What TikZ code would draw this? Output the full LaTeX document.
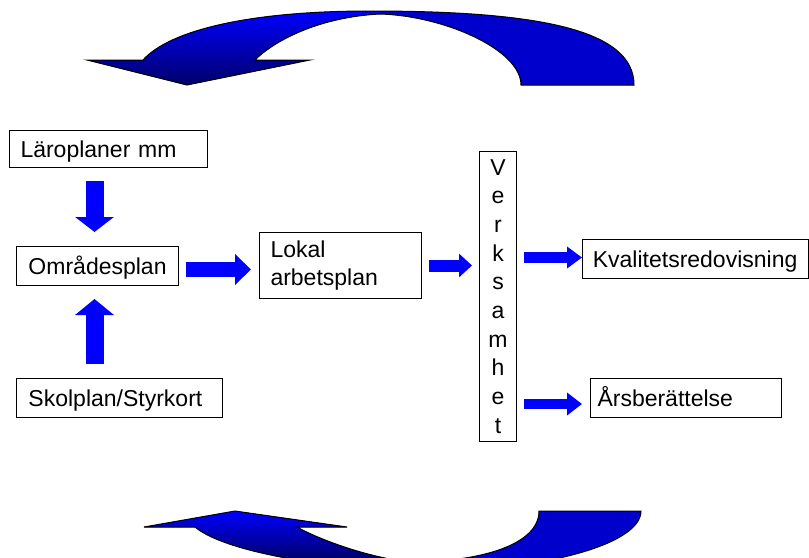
\documentclass[tikz,border=0pt]{standalone}
\usepackage{fontspec}
\setmainfont{Liberation Sans}
\usetikzlibrary{arrows.meta,calc}
\definecolor{arrowblue}{RGB}{0,0,255}
\definecolor{bandblue}{RGB}{0,0,204}
\definecolor{banddark}{RGB}{0,0,105}
\tikzset{every picture/.style={line width=0.75pt}}
\tikzset{
	box/.style={draw, fill=white, anchor=north west, align=left, inner ysep=0pt,
		font=\fontsize{17.25}{20.5}\selectfont},
	oneline/.style={box, text height=12.4pt, text depth=0pt},
	blockarrow/.style n args={3}{arrowblue, line width=#1, -{Triangle[width=#2, length=#3]}}}

\begin{document}
\begin{tikzpicture}[x=0.75pt,y=0.75pt,yscale=-1]
	\useasboundingbox (0,0) rectangle (809,557);
	\clip (0,0) rectangle (809,557);
	
	%Curved arrow, top
	\path[save path=\topband] (87,60) -- (187,85) -- (310,60) -- (255,60) .. controls (275,40) and (320,17) .. (380,14) .. controls (445,16) and (521,50) .. (521,85) -- (634,85) .. controls (634,30) and (540,11) .. (370,11) .. controls (250,11) and (170,30) .. (143,60) -- cycle;
	\fill[bandblue, use path=\topband];
	\begin{scope}
		\clip (0,0) rectangle (380,90);
		\clip[use path=\topband];
		\shade[top color=arrowblue, bottom color=banddark] (80,11) rectangle (380,86);
	\end{scope}
	\draw[use path=\topband];
	
	%Curved arrow, bottom
	\path[save path=\bottomband] (144,527) -- (235,511) -- (347,527) -- (297,527) .. controls (320,540) and (370,558) .. (410,562) .. controls (480,562) and (539,545) .. (539,511) -- (641,511) .. controls (641,545) and (540,572) .. (415,572) .. controls (300,566) and (220,548) .. (195,527) -- cycle;
	\fill[bandblue, use path=\bottomband];
	\begin{scope}
		\clip (0,500) rectangle (412,580);
		\clip[use path=\bottomband];
		\shade[top color=arrowblue, bottom color=banddark] (140,511) rectangle (412,560);
	\end{scope}
	\draw[use path=\bottomband];
	
	% Boxes
	\node[oneline, text width=132pt, inner xsep=8.25pt, minimum height=27.75pt] (lar) at (9,130) {Läroplaner mm};
	\node[oneline, text width=103.5pt, inner xsep=9pt, minimum height=29.25pt] (omr) at (16,246) {Områdesplan};
	\node[oneline, text width=136.5pt, inner xsep=9pt, minimum height=29.25pt] (sko) at (16,378) {Skolplan/Styrkort};
	\node[box, text width=105pt, inner xsep=8.25pt, minimum height=49.5pt] (lok) at (259,232) {Lokal\\arbetsplan};
	\node[box, align=center, text width=27.75pt, inner xsep=0pt, minimum height=217.5pt,
		font=\fontsize{17.25}{21.5}\selectfont] (ver) at (479,151) {V\\e\\r\\k\\s\\a\\m\\h\\e\\t};
	\node[oneline, text width=154pt, inner xsep=7.75pt, minimum height=29.25pt] (kva) at (582,239) {Kvalitetsredovisning};
	\node[oneline, text width=132.75pt, inner xsep=5.25pt, minimum height=29.25pt] (ars) at (590,378) {Årsberättelse};
	
	% Block arrows
	\draw[blockarrow={13.5pt}{28.5pt}{11.25pt}] ($(lar.south)+(-14,13)$) -- ($(omr.north)+(-3,-14)$);
	\draw[blockarrow={13.5pt}{28.5pt}{12pt}] ($(sko.north)+(-25,-14)$) -- ($(omr.south)+(-3,13)$);
	\draw[blockarrow={11.25pt}{22.5pt}{12pt}] ($(omr.east)+(7,3.5)$) -- ($(lok.west)+(-8,4)$);
	\draw[blockarrow={9pt}{17.25pt}{9.75pt}] ($(lok.east)+(7,0)$) -- ($(ver.west |- lok.east)+(-7,0)$);
	\draw[blockarrow={8.25pt}{15.75pt}{11.25pt}] ($(ver.east |- kva.west)+(7,-1.5)$) -- ($(kva.west)+(0,-1.5)$);
	\draw[blockarrow={7.5pt}{16.5pt}{11.25pt}] ($(ver.east |- ars.west)+(7,6)$) -- ($(ars.west)+(-8,6)$);
	
\end{tikzpicture}
\end{document}
